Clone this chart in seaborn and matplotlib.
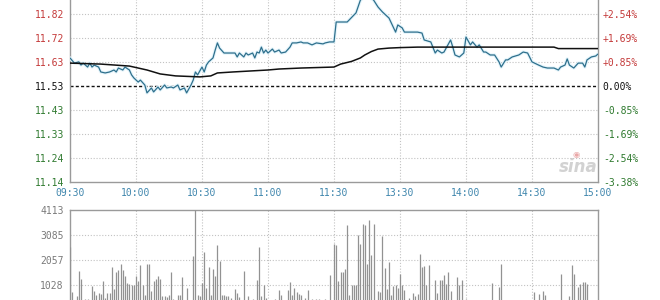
import numpy as np
import pandas as pd
import matplotlib
matplotlib.use("Agg")
import matplotlib.pyplot as plt
import seaborn as sns

# ---------------- data ----------------
price_min = [0, 2, 4, 5, 6, 8, 9, 10, 11, 13, 14, 16, 18, 20, 21, 22, 24, 25, 27, 28,
             29, 31, 32, 34, 35, 37, 38, 40, 41, 43, 44, 46, 47, 49, 50, 52, 53, 55, 56, 57,
             58, 60, 61, 62, 63, 65, 66, 67, 68, 70, 75, 76, 77, 79, 80, 81, 83, 84, 85, 86,
             87, 88, 89, 90, 92, 93, 95, 96, 98, 100, 101, 103, 105, 106, 108, 110, 112, 115, 116, 118,
             120, 121, 126, 129, 130, 132, 135, 138, 140, 142, 145, 148, 149, 151, 152, 157, 158, 160, 161, 164,
             166, 167, 169, 170, 173, 174, 175, 177, 179, 180, 182, 183, 185, 186, 188, 189, 191, 193, 195, 196,
             198, 199, 201, 204, 206, 208, 210, 213, 215, 217, 220, 222, 223, 225, 226, 227, 229, 231, 233, 234,
             235, 237, 239, 240]
price_val = [11.644, 11.623, 11.628, 11.615, 11.623, 11.607, 11.623, 11.607, 11.615, 11.607,
             11.587, 11.583, 11.587, 11.595, 11.587, 11.603, 11.595, 11.607, 11.595, 11.575,
             11.563, 11.546, 11.554, 11.534, 11.502, 11.522, 11.506, 11.526, 11.514, 11.534,
             11.522, 11.526, 11.522, 11.534, 11.514, 11.522, 11.502, 11.534, 11.554, 11.587,
             11.575, 11.607, 11.587, 11.615, 11.628, 11.644, 11.676, 11.705, 11.684, 11.664,
             11.664, 11.648, 11.664, 11.648, 11.664, 11.656, 11.664, 11.644, 11.668, 11.664,
             11.688, 11.664, 11.676, 11.664, 11.680, 11.668, 11.676, 11.664, 11.668, 11.688,
             11.705, 11.705, 11.709, 11.705, 11.705, 11.697, 11.705, 11.701, 11.705, 11.709,
             11.709, 11.790, 11.790, 11.818, 11.827, 11.879, 11.900, 11.879, 11.851, 11.831,
             11.806, 11.749, 11.778, 11.766, 11.749, 11.749, 11.749, 11.745, 11.717, 11.709,
             11.664, 11.676, 11.664, 11.668, 11.717, 11.688, 11.656, 11.648, 11.664, 11.729,
             11.697, 11.709, 11.688, 11.697, 11.668, 11.668, 11.656, 11.656, 11.628, 11.607,
             11.636, 11.636, 11.648, 11.656, 11.668, 11.664, 11.628, 11.615, 11.607, 11.603,
             11.603, 11.595, 11.607, 11.615, 11.640, 11.615, 11.603, 11.623, 11.623, 11.607,
             11.636, 11.648, 11.652, 11.660]

avg_min = [0, 14, 27, 35, 41, 48, 59, 64, 67, 74, 90, 95, 105, 120, 123, 128, 132, 134,
           137, 140, 145, 150, 158, 190, 220, 222, 240]
avg_val = [11.623, 11.619, 11.611, 11.595, 11.579, 11.571, 11.567, 11.571, 11.583, 11.587,
           11.595, 11.599, 11.603, 11.607, 11.619, 11.630, 11.644, 11.656, 11.670, 11.680,
           11.684, 11.686, 11.688, 11.688, 11.688, 11.682, 11.682]

vol_min = [0, 1, 3, 4, 5, 7, 8, 10, 11, 12, 13, 14, 15, 16, 17, 18, 19, 20, 21, 22,
           23, 24, 25, 26, 27, 28, 29, 30, 31, 32, 33, 34, 35, 36, 37, 38, 39, 40, 41, 42,
           43, 44, 45, 46, 47, 49, 50, 51, 53, 56, 57, 58, 59, 60, 61, 62, 63, 64, 65, 66,
           67, 68, 69, 70, 71, 72, 73, 75, 76, 77, 79, 81, 83, 85, 86, 87, 88, 89, 93, 95,
           96, 99, 100, 101, 102, 103, 104, 105, 107, 108, 110, 112, 113, 116, 118, 120, 121, 122, 123, 124,
           125, 126, 127, 128, 129, 130, 131, 132, 133, 134, 135, 136, 137, 138, 140, 141, 142, 143, 144, 145,
           146, 147, 148, 149, 150, 151, 152, 154, 156, 157, 158, 159, 160, 161, 162, 163, 166, 167, 168, 169,
           170, 171, 172, 173, 176, 177, 178, 180, 192, 195, 196, 211, 213, 215, 216, 223, 227, 228, 229, 231,
           232, 233, 234, 235]
vol_val = [2577, 740, 562, 1618, 1289, 439, 439, 973, 795, 603, 699, 658, 1179, 494, 699, 713, 1755, 877, 1549, 1659,
           1906, 1631, 1385, 1110, 1083, 1042, 1042, 1385, 1179, 1865, 1042, 603, 1906, 1906, 795, 1179, 1289, 1385, 1289, 562,
           562, 521, 603, 1563, 466, 603, 603, 1344, 905, 2207, 4113, 603, 562, 1110, 2385, 905, 1755, 630, 1700, 1385,
           2687, 2029, 603, 603, 562, 562, 494, 864, 699, 521, 1590, 562, 466, 1248, 2577, 562, 1042, 494, 466, 836,
           603, 836, 1152, 603, 905, 740, 658, 603, 494, 836, 466, 466, 466, 466, 1453, 2714, 2659, 1207, 1549, 1549,
           1700, 3482, 630, 1042, 1042, 1014, 3071, 2714, 3537, 3482, 1892, 3715, 2248, 3537, 768, 740, 3030, 1727, 877, 1974,
           630, 973, 1042, 905, 1494, 1042, 836, 494, 699, 562, 658, 2317, 1755, 1796, 1042, 1865, 1248, 699, 1248, 1248,
           1426, 1069, 1549, 768, 1344, 1042, 1248, 466, 1110, 932, 1906, 740, 658, 795, 603, 1494, 562, 1865, 1494, 932,
           1069, 1152, 1152, 1069]

prev_close = 11.53
price_ticks = [11.14, 11.2375, 11.335, 11.4325, 11.53, 11.6275, 11.725, 11.8225]
price_labels = ["11.14", "11.24", "11.33", "11.43", "11.53", "11.63", "11.72", "11.82"]
pct_labels = ["-3.38%", "-2.54%", "-1.69%", "-0.85%", "0.00%", "+0.85%", "+1.69%", "+2.54%"]
time_ticks = [0, 30, 60, 90, 120, 150, 180, 210, 240]
time_labels = ["09:30", "10:00", "10:30", "11:00", "11:30", "13:30", "14:00", "14:30", "15:00"]
vol_ticks = [1028, 2057, 3085, 4113]
vol_labels = ["1028", "2057", "3085", "4113"]

# ---------------- style ----------------
sns.set_theme(style="white")
plt.rcParams["font.family"] = ["DejaVu Sans Mono", "DejaVu Sans"]

RED = "#c43a3a"
GREEN = "#2f7a2f"
BLUE = "#3f86ad"
GRAY_TXT = "#7a7a7a"
SPINE = "#9a9a9a"
GRID = "#c2c2c2"
FS = 7

W, H = 660, 300
fig = plt.figure(figsize=(6.6, 3.0), dpi=100)
fig.patch.set_facecolor("white")

def fx(px):
    return px / W

def fy(py):
    return (H - py) / H

step = 0.0975
ax = fig.add_axes([fx(70), fy(182), fx(598) - fx(70), (182 + 24) / H])
ax.set_xlim(0, 240)
ylo = 11.14
yhi = 11.14 + (182 + 24) / 24 * step
ax.set_ylim(ylo, yhi)

df_p = pd.DataFrame({"minute": price_min, "price": price_val})
df_a = pd.DataFrame({"minute": avg_min, "price": avg_val})

sns.lineplot(data=df_p, x="minute", y="price", ax=ax, color="#e3f4fb", linewidth=2.4, zorder=3)
sns.lineplot(data=df_p, x="minute", y="price", ax=ax, color="#2e6f8c", linewidth=0.9, zorder=4)
sns.lineplot(data=df_a, x="minute", y="price", ax=ax, color="#111111", linewidth=1.1, zorder=5)

ax.axhline(prev_close, color="#111111", linestyle=(0, (2.2, 1.6)), linewidth=1.0, zorder=2)
for t in price_ticks[1:]:
    if abs(t - prev_close) > 1e-6:
        ax.axhline(t, color=GRID, linestyle=(0, (1, 1.6)), linewidth=0.8, zorder=1)
ax.axhline(11.92, color=GRID, linestyle=(0, (1, 1.6)), linewidth=0.8, zorder=1)
for t in time_ticks[1:-1]:
    ax.axvline(t, color=GRID, linestyle=(0, (1, 1.6)), linewidth=0.8, zorder=1)

ax.set_xlabel("")
ax.set_ylabel("")
ax.set_yticks(price_ticks)
ax.set_yticklabels(price_labels)
ax.set_xticks(time_ticks)
ax.set_xticklabels(time_labels)
ax.tick_params(axis="y", length=0, pad=4.5, labelsize=FS)
ax.tick_params(axis="x", length=0, pad=4.5, labelsize=FS, labelcolor=BLUE)
for lab, t in zip(ax.get_yticklabels(), price_ticks):
    lab.set_color(RED if t > prev_close + 1e-6 else (GREEN if t < prev_close - 1e-6 else "#111111"))

for s in ["left", "bottom", "right"]:
    ax.spines[s].set_color(SPINE)
    ax.spines[s].set_linewidth(1.0)
ax.spines["top"].set_visible(False)

ax2 = ax.twinx()
ax2.set_ylim(ylo, yhi)
ax2.set_yticks(price_ticks)
ax2.set_yticklabels(pct_labels)
ax2.tick_params(axis="y", length=0, pad=3.5, labelsize=FS)
for lab, t in zip(ax2.get_yticklabels(), price_ticks):
    lab.set_color(RED if t > prev_close + 1e-6 else (GREEN if t < prev_close - 1e-6 else "#111111"))
for s in ["left", "bottom", "top", "right"]:
    ax2.spines[s].set_visible(False)
ax2.grid(False)
ax.grid(False)

# sina watermark
ax.text(0.962, 0.075, "sina", transform=ax.transAxes, fontsize=12, fontstyle="italic",
        fontweight="bold", color="#d2d2d2", family="DejaVu Sans", ha="center", va="center", zorder=0)
ax.text(0.958, 0.135, "\u25c9", transform=ax.transAxes, fontsize=6, color="#eaa8a8",
        family="DejaVu Sans", ha="center", va="center", zorder=0)

axv = fig.add_axes([fx(70), fy(310), fx(598) - fx(70), 100 / H])
axv.set_xlim(0, 240)
axv.set_ylim(0, 4113)
axv.vlines(vol_min, 0, vol_val, color="#929292", linewidth=0.9, zorder=3)
for t in vol_ticks[:-1]:
    axv.axhline(t, color=GRID, linestyle=(0, (1, 1.6)), linewidth=0.8, zorder=1)
for t in time_ticks[1:-1]:
    axv.axvline(t, color=GRID, linestyle=(0, (1, 1.6)), linewidth=0.8, zorder=1)
axv.set_yticks(vol_ticks)
axv.set_yticklabels(vol_labels)
axv.set_xticks([])
axv.tick_params(axis="y", length=0, pad=4.5, labelsize=FS, labelcolor=GRAY_TXT)
for s in ["left", "top", "right"]:
    axv.spines[s].set_color(SPINE)
    axv.spines[s].set_linewidth(1.0)
axv.spines["bottom"].set_visible(False)
axv.grid(False)

fig.savefig("out.png", dpi=100, facecolor="white")
